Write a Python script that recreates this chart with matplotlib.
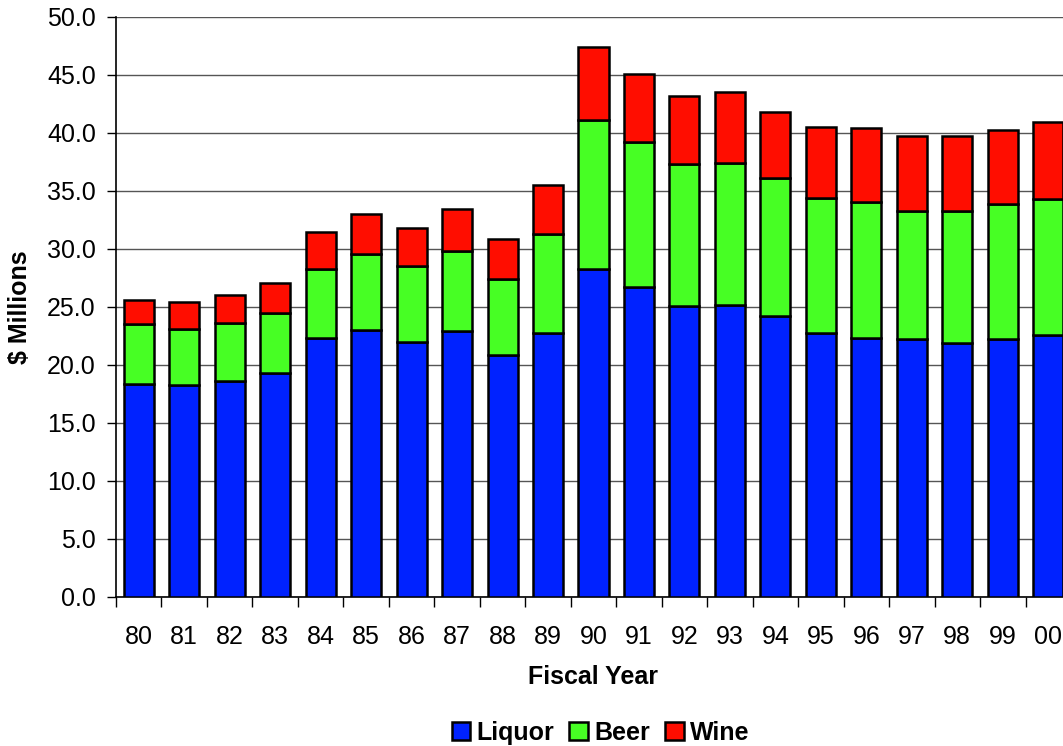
import matplotlib.pyplot as plt
import numpy as np

plt.rcParams["font.family"] = ["Liberation Sans", "DejaVu Sans"]

# Fiscal years and stacked totals ($ millions)
years = ["80", "81", "82", "83", "84", "85", "86", "87", "88", "89",
         "90", "91", "92", "93", "94", "95", "96", "97", "98", "99", "00"]
liquor = [18.4, 18.25, 18.65, 19.3, 22.3, 23.05, 22.0, 22.9, 20.9, 22.8,
          28.3, 26.7, 25.1, 25.2, 24.2, 22.8, 22.3, 22.2, 21.9, 22.2, 22.6]
liquor_beer = [23.5, 23.1, 23.6, 24.5, 28.3, 29.6, 28.5, 29.8, 27.45, 31.3,
               41.1, 39.2, 37.35, 37.4, 36.1, 34.4, 34.05, 33.3, 33.3, 33.9, 34.3]
total = [25.6, 25.4, 26.0, 27.1, 31.5, 33.0, 31.8, 33.45, 30.9, 35.5,
         47.4, 45.05, 43.15, 43.5, 41.8, 40.55, 40.45, 39.7, 39.75, 40.3, 40.95]

beer = [b - l for b, l in zip(liquor_beer, liquor)]
wine = [t - b for t, b in zip(total, liquor_beer)]

fig = plt.figure(figsize=(10.63, 7.46), dpi=100)
# axes runs a little past the right edge, like the source chart
ax = fig.add_axes([116 / 1063, 149 / 746, 955 / 1063, 580 / 746])

x = np.arange(len(years))
w = 0.66
kw = dict(width=w, edgecolor="black", linewidth=1.8, zorder=3)
ax.bar(x, liquor, color="#0022ff", label="Liquor", **kw)
ax.bar(x, beer, bottom=liquor, color="#47ff24", label="Beer", **kw)
ax.bar(x, wine, bottom=liquor_beer, color="#ff0d00", label="Wine", **kw)

ax.set_xlim(-0.5, len(years) - 0.5)
ax.set_ylim(0, 50)
ax.set_yticks(np.arange(0, 50.1, 5))
ax.set_yticklabels([f"{v:.1f}" for v in np.arange(0, 50.1, 5)])
ax.yaxis.grid(True, color="#555555", linewidth=1.0, zorder=0)
ax.set_axisbelow(True)

ax.set_xticks(x)
ax.set_xticklabels(years)
ax.set_xticks(np.arange(-0.5, len(years), 1), minor=True)
ax.tick_params(axis="x", which="major", length=0, pad=20, labelsize=18)
ax.tick_params(axis="x", which="minor", length=7, width=1, direction="out")
ax.tick_params(axis="y", length=6.5, width=1, direction="out", labelsize=18, pad=8)

for s in ["top", "right"]:
    ax.spines[s].set_visible(False)
ax.spines["left"].set_linewidth(1.2)
ax.spines["bottom"].set_linewidth(1.2)

ax.set_xlabel("Fiscal Year", fontsize=18, fontweight="bold")
ax.set_ylabel(r"\$ Millions", fontsize=18, fontweight="bold")
ax.xaxis.set_label_coords(0.5, -0.138)
ax.yaxis.set_label_coords(-0.1005, 0.5)
ax.xaxis.label.set_va("center")
ax.yaxis.label.set_va("center")

fig.legend(loc="center", bbox_to_anchor=(0.565, 0.018), ncol=3, frameon=False,
           prop=dict(size=18, weight="bold"), handlelength=0.75, handleheight=0.75,
           handletextpad=0.25, columnspacing=0.6, borderaxespad=0)

fig.savefig("out.png", dpi=100)
